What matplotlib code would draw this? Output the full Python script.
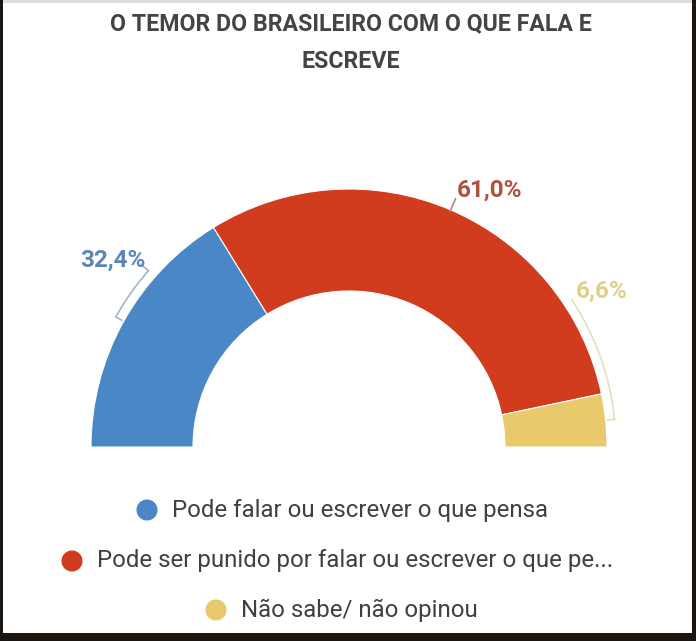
import numpy as np
import matplotlib
matplotlib.use("Agg")
import matplotlib.pyplot as plt
from matplotlib.patches import Rectangle

# Survey shares
categories = [
    "Pode falar ou escrever o que pensa",
    "Pode ser punido por falar ou escrever o que pe...",
    "Não sabe/ não opinou",
]
values = [32.4, 61.0, 6.6]
value_labels = ["32,4%", "61,0%", "6,6%"]

colors = ["#4a87c6", "#d13c1f", "#e8c96c"]
label_colors = ["#5b86ba", "#b0503d", "#ddd08c"]
leader_colors = ["#9fb6d3", "#b58a80", "#e3e0c0"]

W, H = 696, 641
fig = plt.figure(figsize=(W / 100, H / 100), dpi=100, facecolor="#1b1511")
ax = fig.add_axes([0, 0, 1, 1])

def py(y):
    return H - y

# white card
ax.add_patch(Rectangle((3, py(633)), 689, 633, facecolor="white", edgecolor="none", zorder=0))
ax.add_patch(Rectangle((3, py(3)), 689, 3, facecolor="#dcdcdc", edgecolor="none", zorder=0))

cx, cy = 349, py(447)
R, ring = 258, 102

total = sum(values)
wedges, _ = ax.pie(values + [total], colors=colors + ["none"], startangle=180, counterclock=False,
                   radius=R, center=(cx, cy), frame=True,
                   wedgeprops=dict(width=ring, edgecolor="white", linewidth=0.8))
wedges[-1].set_edgecolor("none")
ax.set_xlim(0, W)
ax.set_ylim(0, H)
ax.set_aspect("auto")
ax.axis("off")

# slice mid angles
starts = 180 - np.cumsum([0] + values[:-1]) / total * 180
ends = 180 - np.cumsum(values) / total * 180
mids = (starts + ends) / 2

lw = 1.2
rb = R + 9

def radial(angle, r0, r1, color):
    t = np.radians(angle)
    ax.plot([cx + r0 * np.cos(t), cx + r1 * np.cos(t)],
            [cy + r0 * np.sin(t), cy + r1 * np.sin(t)], color=color, lw=lw)

def arc(a0, a1, color):
    a = np.radians(np.linspace(a0, a1, 40))
    ax.plot(cx + rb * np.cos(a), cy + rb * np.sin(a), color=color, lw=lw)

lab_kw = dict(fontsize=17.5, fontweight="bold", family="Roboto", ha="center", va="center")

# 32,4% bracket leader
radial(mids[0], R + 2, rb, leader_colors[0])
arc(mids[0], 138.7, leader_colors[0])
radial(138.7, rb, R + 19, leader_colors[0])
ax.text(113, py(260), value_labels[0], color=label_colors[0], **lab_kw)

# 61,0% leader
radial(mids[1], R - 1, R + 12, leader_colors[1])
ax.text(489, py(190), value_labels[1], color=label_colors[1], **lab_kw)

# 6,6% bracket leader
radial(mids[2], R + 2, rb, leader_colors[2])
arc(mids[2], 33.5, leader_colors[2])
ax.text(602, py(291), value_labels[2], color=label_colors[2], **lab_kw)

# title
title_kw = dict(color="#444444", fontsize=16.7, fontweight="bold", family="Roboto",
                ha="center", va="center")
ax.text(351, py(24), "O TEMOR DO BRASILEIRO COM O QUE FALA E", **title_kw)
ax.text(351, py(62), "ESCREVE", **title_kw)

# legend
leg_pos = [(147, 510), (72, 561), (216, 610)]
for (x, y), c, lab in zip(leg_pos, colors, categories):
    ax.scatter([x], [py(y)], s=230, color=c, edgecolors="none")
    ax.text(x + 25, py(y), lab, color="#404040", fontsize=17.3, family="Roboto",
            ha="left", va="center")

fig.savefig("out.png", dpi=100, facecolor=fig.get_facecolor())
